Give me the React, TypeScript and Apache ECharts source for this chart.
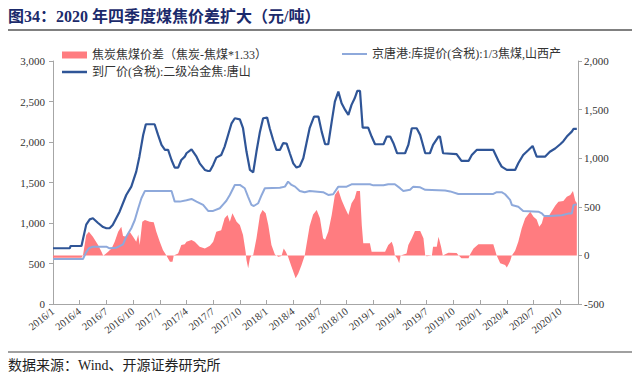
import React, { useEffect, useRef } from 'react';
import * as echarts from 'echarts';

// Quarter tick labels (one every 3 months starting 2016/1)
const quarterLabels = [
  '2016/1', '2016/4', '2016/7', '2016/10',
  '2017/1', '2017/4', '2017/7', '2017/10',
  '2018/1', '2018/4', '2018/7', '2018/10',
  '2019/1', '2019/4', '2019/7', '2019/10',
  '2020/1', '2020/4', '2020/7', '2020/10',
];

const leftTicks = [0, 500, 1000, 1500, 2000, 2500, 3000];
const rightTicks = [-500, 0, 500, 1000, 1500, 2000];

const seriesNames = {
  spread: '焦炭焦煤价差（焦炭-焦煤*1.33）',
  coal: '京唐港:库提价(含税):1/3焦煤,山西产',
  coke: '到厂价(含税):二级冶金焦:唐山',
};

// 到厂价(含税):二级冶金焦:唐山 (left axis)
const cokeData: [string, number][] = [
  ['2016-01-01', 688], ['2016-02-27', 688], ['2016-02-29', 716], ['2016-04-07', 716],
  ['2016-04-12', 800], ['2016-04-23', 980], ['2016-05-05', 1045], ['2016-05-16', 1058],
  ['2016-06-03', 1000], ['2016-06-20', 950], ['2016-07-01', 935], ['2016-07-12', 935],
  ['2016-07-23', 975], ['2016-08-16', 1140], ['2016-09-08', 1346], ['2016-09-25', 1449],
  ['2016-10-12', 1634], ['2016-10-23', 1819], ['2016-11-05', 2087], ['2016-11-14', 2219],
  ['2016-12-14', 2219], ['2016-12-26', 2087], ['2017-01-07', 1964], ['2017-01-19', 1902],
  ['2017-01-30', 1902], ['2017-02-10', 1778], ['2017-02-20', 1684], ['2017-03-03', 1684],
  ['2017-03-14', 1778], ['2017-03-26', 1819], ['2017-04-01', 1861], ['2017-04-18', 1910],
  ['2017-05-05', 1819], ['2017-05-16', 1737], ['2017-06-03', 1655], ['2017-06-14', 1642],
  ['2017-06-20', 1642], ['2017-07-01', 1717], ['2017-07-12', 1807], ['2017-07-29', 1840],
  ['2017-08-10', 1943], ['2017-08-22', 2087], ['2017-09-03', 2231], ['2017-09-14', 2293],
  ['2017-10-01', 2280], ['2017-10-12', 2170], ['2017-10-24', 1882], ['2017-11-05', 1655],
  ['2017-11-16', 1626], ['2017-11-27', 1882], ['2017-12-09', 2128], ['2017-12-20', 2293],
  ['2018-01-03', 2301], ['2018-01-12', 2170], ['2018-01-24', 2025], ['2018-02-04', 1902],
  ['2018-02-15', 1902], ['2018-02-25', 1985], ['2018-03-09', 1980], ['2018-03-20', 1861],
  ['2018-04-01', 1737], ['2018-04-12', 1684], ['2018-04-23', 1700], ['2018-05-05', 1799],
  ['2018-05-16', 1985], ['2018-05-27', 2170], ['2018-06-11', 2313], ['2018-06-26', 2313],
  ['2018-07-07', 2128], ['2018-07-19', 1972], ['2018-07-30', 1972], ['2018-08-11', 2252],
  ['2018-08-22', 2499], ['2018-09-03', 2622], ['2018-09-14', 2478], ['2018-09-26', 2396],
  ['2018-10-07', 2334], ['2018-10-18', 2458], ['2018-10-29', 2540], ['2018-11-07', 2631],
  ['2018-11-16', 2631], ['2018-11-25', 2178], ['2018-12-14', 2178], ['2018-12-26', 2067],
  ['2019-01-07', 1972], ['2019-02-05', 1972], ['2019-02-15', 2067], ['2019-02-26', 2067],
  ['2019-03-09', 1985], ['2019-03-22', 1861], ['2019-04-18', 1861], ['2019-04-29', 1964],
  ['2019-05-11', 2170], ['2019-05-28', 2170], ['2019-06-09', 2087], ['2019-06-26', 1861],
  ['2019-07-12', 1861], ['2019-07-23', 1964], ['2019-08-11', 2067], ['2019-08-16', 2067],
  ['2019-08-27', 1861], ['2019-10-12', 1850], ['2019-10-29', 1766], ['2019-11-22', 1766],
  ['2019-12-03', 1840], ['2019-12-20', 1902], ['2020-02-15', 1902], ['2020-03-03', 1766],
  ['2020-03-14', 1696], ['2020-04-01', 1655], ['2020-04-29', 1655], ['2020-05-10', 1737],
  ['2020-05-27', 1840], ['2020-06-14', 1902], ['2020-06-28', 1951], ['2020-07-12', 1819],
  ['2020-08-10', 1819], ['2020-08-27', 1880], ['2020-09-14', 1920], ['2020-10-01', 1972],
  ['2020-10-12', 2010], ['2020-10-24', 2067], ['2020-11-10', 2128], ['2020-11-16', 2161],
  ['2020-11-27', 2161],
];

// 京唐港:库提价(含税):1/3焦煤,山西产 (left axis)
const coalData: [string, number][] = [
  ['2016-01-01', 556], ['2016-04-12', 556], ['2016-04-23', 640], ['2016-05-02', 688],
  ['2016-05-16', 708], ['2016-07-01', 708], ['2016-07-12', 688], ['2016-08-05', 695],
  ['2016-08-28', 737], ['2016-09-08', 831], ['2016-09-25', 935], ['2016-10-07', 1037],
  ['2016-10-19', 1182], ['2016-10-30', 1306], ['2016-11-11', 1396], ['2017-02-10', 1396],
  ['2017-02-20', 1264], ['2017-03-09', 1264], ['2017-04-01', 1280], ['2017-04-18', 1297],
  ['2017-05-05', 1264], ['2017-05-28', 1223], ['2017-06-14', 1149], ['2017-07-01', 1149],
  ['2017-07-24', 1182], ['2017-08-05', 1231], ['2017-08-16', 1275], ['2017-08-28', 1346],
  ['2017-09-14', 1470], ['2017-10-01', 1470], ['2017-10-18', 1429], ['2017-10-29', 1330],
  ['2017-11-10', 1223], ['2017-11-18', 1210], ['2017-12-03', 1244], ['2017-12-15', 1346],
  ['2017-12-26', 1429], ['2018-02-15', 1435], ['2018-03-03', 1449], ['2018-03-14', 1511],
  ['2018-03-26', 1470], ['2018-04-07', 1449], ['2018-04-23', 1396], ['2018-05-10', 1380],
  ['2018-05-27', 1396], ['2018-07-12', 1380], ['2018-07-30', 1346], ['2018-08-16', 1355],
  ['2018-09-03', 1449], ['2018-10-01', 1449], ['2018-10-18', 1478], ['2018-12-20', 1478],
  ['2019-01-01', 1465], ['2019-02-05', 1465], ['2019-02-20', 1478], ['2019-03-14', 1478],
  ['2019-04-01', 1430], ['2019-04-12', 1396], ['2019-05-05', 1410], ['2019-05-16', 1449],
  ['2019-06-09', 1440], ['2019-06-26', 1410], ['2019-09-03', 1400], ['2019-09-20', 1390],
  ['2019-10-18', 1359], ['2020-02-15', 1359], ['2020-02-26', 1380], ['2020-03-14', 1380],
  ['2020-03-26', 1355], ['2020-04-12', 1285], ['2020-04-18', 1223], ['2020-05-10', 1200],
  ['2020-05-27', 1149], ['2020-07-18', 1140], ['2020-07-30', 1120], ['2020-08-07', 1087],
  ['2020-08-27', 1087], ['2020-10-07', 1095], ['2020-10-29', 1116], ['2020-11-10', 1116],
  ['2020-11-16', 1223], ['2020-11-27', 1230],
];

// 焦炭焦煤价差 (right axis)
const spreadData: [string, number][] = [
  ['2016-01-01', -25], ['2016-04-07', -25], ['2016-04-12', 0], ['2016-04-23', 210],
  ['2016-05-02', 244], ['2016-05-16', 193], ['2016-06-03', 107], ['2016-06-14', 40],
  ['2016-06-20', 0], ['2016-06-26', 10], ['2016-07-07', 38], ['2016-07-19', 72],
  ['2016-07-30', 141], ['2016-08-11', 244], ['2016-08-22', 295], ['2016-08-28', 200],
  ['2016-09-08', 193], ['2016-09-20', 240], ['2016-10-01', 193], ['2016-10-12', 141],
  ['2016-10-19', 215], ['2016-10-24', 107], ['2016-11-02', 347], ['2016-11-11', 364],
  ['2016-11-27', 347], ['2016-12-11', 340], ['2016-12-20', 244], ['2017-01-01', 141],
  ['2017-01-12', 55], ['2017-01-24', 0], ['2017-02-05', -65], ['2017-02-13', -65],
  ['2017-02-17', 0], ['2017-03-03', 20], ['2017-03-14', 107], ['2017-03-26', 114],
  ['2017-04-01', 141], ['2017-04-18', 158], ['2017-04-29', 141], ['2017-05-16', 90],
  ['2017-06-03', 72], ['2017-06-20', 100], ['2017-07-01', 141], ['2017-07-12', 244],
  ['2017-07-29', 260], ['2017-08-10', 381], ['2017-08-20', 415], ['2017-08-28', 347],
  ['2017-09-06', 433], ['2017-09-20', 347], ['2017-10-01', 313], ['2017-10-12', 210],
  ['2017-10-21', 38], ['2017-10-24', -48], ['2017-10-30', -133], ['2017-11-05', -30],
  ['2017-11-10', 0], ['2017-11-16', 5], ['2017-11-27', 176], ['2017-12-09', 415],
  ['2017-12-18', 467], ['2017-12-29', 433], ['2018-01-07', 313], ['2018-01-18', 107],
  ['2018-01-30', 10], ['2018-02-10', -15], ['2018-02-20', -5], ['2018-02-27', 72],
  ['2018-03-06', 38], ['2018-03-14', -15], ['2018-03-26', -116], ['2018-04-09', -236],
  ['2018-04-18', -185], ['2018-04-29', -99], ['2018-05-10', 0], ['2018-05-16', 107],
  ['2018-05-27', 300], ['2018-06-08', 420], ['2018-06-20', 467], ['2018-07-01', 381],
  ['2018-07-12', 176], ['2018-07-19', 160], ['2018-07-30', 244], ['2018-08-11', 415],
  ['2018-08-22', 621], ['2018-09-03', 673], ['2018-09-14', 570], ['2018-09-26', 484],
  ['2018-10-07', 415], ['2018-10-18', 536], ['2018-10-29', 587], ['2018-11-05', 663],
  ['2018-11-16', 663], ['2018-11-22', 313], ['2018-11-27', 124], ['2018-12-20', 124],
  ['2018-12-26', 38], ['2019-02-10', 38], ['2019-02-20', 107], ['2019-03-03', 141],
  ['2019-03-09', 90], ['2019-03-14', 0], ['2019-03-22', -30], ['2019-03-29', -81],
  ['2019-04-03', 0], ['2019-04-23', 20], ['2019-04-29', 107], ['2019-05-11', 176],
  ['2019-05-22', 251], ['2019-06-09', 251], ['2019-06-20', 176], ['2019-06-26', 0],
  ['2019-07-01', -10], ['2019-07-19', 0], ['2019-07-23', 90], ['2019-08-05', 90],
  ['2019-08-11', 193], ['2019-08-20', 90], ['2019-08-26', 0], ['2019-08-27', -5],
  ['2019-09-14', 28], ['2019-10-12', 25], ['2019-10-18', 5], ['2019-10-29', -30],
  ['2019-11-22', -30], ['2019-11-27', 10], ['2019-12-09', 72], ['2019-12-26', 114],
  ['2020-02-15', 114], ['2020-02-26', 0], ['2020-03-09', -82], ['2020-03-26', -99],
  ['2020-04-01', -125], ['2020-04-12', -60], ['2020-04-18', 0], ['2020-04-29', 48],
  ['2020-05-10', 141], ['2020-05-22', 279], ['2020-06-03', 381], ['2020-06-20', 450],
  ['2020-07-01', 398], ['2020-07-12', 370], ['2020-07-21', 295], ['2020-07-30', 330],
  ['2020-08-05', 395], ['2020-08-22', 400], ['2020-09-03', 457], ['2020-09-14', 512],
  ['2020-09-25', 553], ['2020-10-12', 560], ['2020-10-24', 604], ['2020-11-05', 621],
  ['2020-11-14', 663], ['2020-11-22', 560], ['2020-11-27', 540],
];

const titleText = '图34：2020 年四季度煤焦价差扩大（元/吨）';
const sourceText = '数据来源：Wind、开源证券研究所';

const FONT = "'Liberation Serif', 'Times New Roman', 'Noto Sans CJK SC', serif";

const RED = '#FF7C80';
const DARK = '#2F5597';
const LIGHT = '#8EA9DB';

function monthIndex(d: string): number {
  const [y, m, day] = d.split('-').map(Number);
  const dim = new Date(y, m, 0).getDate();
  return (y - 2016) * 12 + (m - 1) + (day - 1) / dim;
}

const toPoints = (arr: [string, number][]) => arr.map(([d, v]) => [monthIndex(d), v]);

export default function App() {
  const ref = useRef<HTMLDivElement>(null);

  useEffect(() => {
    if (!ref.current) return;
    const chart = echarts.init(ref.current, undefined, { renderer: 'svg' });
    const axisColor = '#A6A6A6';
    const labelColor = '#333333';
    const xMax = 59;
    const legendText = { fontFamily: FONT, fontSize: 12, color: labelColor };

    chart.setOption({
      animation: false,
      backgroundColor: '#ffffff',
      textStyle: { fontFamily: FONT },
      grid: { left: 53, right: 59, top: 61, bottom: 71, containLabel: false },
      legend: [
        {
          left: 62, top: 49, padding: 0, itemWidth: 25, itemHeight: 7,
          data: [{ name: seriesNames.spread, icon: 'rect', itemStyle: { color: RED } }],
          textStyle: legendText,
        },
        {
          left: 62, top: 66, padding: 0, itemWidth: 25, itemHeight: 2.5,
          data: [{ name: seriesNames.coke, icon: 'rect', itemStyle: { color: DARK } }],
          textStyle: legendText,
        },
        {
          left: 342, top: 48, padding: 0, itemWidth: 25, itemHeight: 2,
          data: [{ name: seriesNames.coal, icon: 'rect', itemStyle: { color: LIGHT } }],
          textStyle: legendText,
        },
      ],
      xAxis: {
        type: 'value',
        min: 0,
        max: xMax,
        interval: 3,
        splitLine: { show: false },
        axisLine: { onZero: false, lineStyle: { color: axisColor, width: 1 } },
        axisTick: { show: true, inside: true, length: 4, lineStyle: { color: axisColor } },
        axisLabel: {
          rotate: 38,
          margin: 6,
          fontSize: 10.5,
          color: labelColor,
          fontFamily: FONT,
          showMaxLabel: false,
          formatter: (v: number) => {
            const q = v / 3;
            if (Math.abs(q - Math.round(q)) > 1e-6) return '';
            return quarterLabels[Math.round(q)] ?? '';
          },
        },
      },
      yAxis: [
        {
          type: 'value',
          min: leftTicks[0],
          max: leftTicks[leftTicks.length - 1],
          interval: 500,
          splitLine: { show: false },
          axisLine: { show: true, lineStyle: { color: axisColor } },
          axisTick: { show: true, length: 4, lineStyle: { color: axisColor } },
          axisLabel: {
            fontSize: 11, color: labelColor, fontFamily: FONT, margin: 8,
            formatter: (v: number) => v.toLocaleString('en-US'),
          },
        },
        {
          type: 'value',
          min: rightTicks[0],
          max: rightTicks[rightTicks.length - 1],
          interval: 500,
          position: 'right',
          splitLine: { show: false },
          axisLine: { show: true, lineStyle: { color: axisColor } },
          axisTick: { show: true, length: 4, lineStyle: { color: axisColor } },
          axisLabel: {
            fontSize: 11, color: labelColor, fontFamily: FONT, margin: 6,
            formatter: (v: number) => v.toLocaleString('en-US'),
          },
        },
      ],
      series: [
        {
          name: seriesNames.spread,
          type: 'line',
          yAxisIndex: 1,
          data: toPoints(spreadData),
          symbol: 'none',
          lineStyle: { width: 0, color: RED },
          itemStyle: { color: RED },
          areaStyle: { color: RED, opacity: 1 },
          z: 1,
        },
        {
          name: seriesNames.coal,
          type: 'line',
          yAxisIndex: 0,
          data: toPoints(coalData),
          symbol: 'none',
          lineStyle: { width: 2, color: LIGHT },
          itemStyle: { color: LIGHT },
          z: 2,
        },
        {
          name: seriesNames.coke,
          type: 'line',
          yAxisIndex: 0,
          data: toPoints(cokeData),
          symbol: 'none',
          lineStyle: { width: 2.2, color: DARK },
          itemStyle: { color: DARK },
          z: 3,
        },
      ],
      graphic: [
        {
          type: 'text',
          left: 8,
          top: 8,
          style: {
            text: titleText,
            font: `bold 16px ${FONT}`,
            fill: '#1B2A6B',
          },
        },
        {
          type: 'line',
          shape: { x1: 8, y1: 30, x2: 632, y2: 30 },
          style: { stroke: '#808080', lineWidth: 2 },
        },
        {
          type: 'line',
          shape: { x1: 8, y1: 352, x2: 632, y2: 352 },
          style: { stroke: '#808080', lineWidth: 1.5 },
        },
        {
          type: 'text',
          left: 8,
          top: 358,
          style: {
            text: sourceText,
            font: `14px ${FONT}`,
            fill: '#222222',
          },
        },
      ],
    });

    return () => chart.dispose();
  }, []);

  return (
    <div
      ref={ref}
      style={{ position: 'absolute', left: 0, top: 0, width: 637, height: 375, background: '#fff' }}
    />
  );
}
